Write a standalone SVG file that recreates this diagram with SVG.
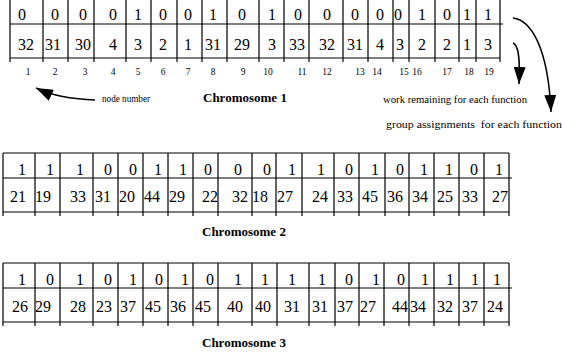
<svg xmlns="http://www.w3.org/2000/svg" width="562" height="356" viewBox="0 0 562 356">
<style>
.grid{fill:none;stroke:#000;stroke-width:1.2}
.v{font-family:"Liberation Serif","Times New Roman","DejaVu Serif",serif;font-size:16px;text-anchor:middle;fill:#000}
.n{font-family:"Liberation Serif","Times New Roman","DejaVu Serif",serif;font-size:9.5px;text-anchor:middle;fill:#000}
.lbl{font-family:"Liberation Serif","Times New Roman","DejaVu Serif",serif;font-size:10px;fill:#000}
.ttl{font-family:"Liberation Serif","Times New Roman","DejaVu Serif",serif;font-size:13px;font-weight:bold;fill:#000}
.arr{fill:none;stroke:#000;stroke-width:1.5}
</style>
<defs>
<marker id="ah" markerUnits="userSpaceOnUse" markerWidth="18" markerHeight="12" refX="17" refY="6" orient="auto">
<path d="M0,0 L17,6 L0,12 z" fill="#000"/>
</marker>
</defs>

<g id="chromosome1">
<path class="grid" d="M10,-1H500M10,24H503M10,58H500
M10,-1V62M43,-1V62M68,-1V62M94,-1V62M126,-1V62M151,-1V62M177,-1V62M202,-1V62M227,-1V62M259,-1V62M284,-1V62M309,-1V62M343,-1V62M368,-1V62M393,-1V62M409,-1V62M435,-1V62M459,-1V62M476,-1V62M500,-1V62"/>
<g class="v">
<text x="22" y="20">0</text><text x="55" y="20">0</text><text x="83" y="20">0</text><text x="113" y="20">0</text><text x="138" y="20">1</text><text x="163" y="20">0</text><text x="188" y="20">0</text><text x="213" y="20">1</text><text x="242" y="20">0</text><text x="272" y="20">1</text><text x="298" y="20">0</text><text x="327" y="20">0</text><text x="355" y="20">0</text><text x="380" y="20">0</text><text x="398" y="20">0</text><text x="422" y="20">1</text><text x="447" y="20">0</text><text x="467" y="20">1</text><text x="488" y="20">1</text>
<text x="26" y="50">32</text><text x="53" y="50">31</text><text x="83" y="50">30</text><text x="113" y="50">4</text><text x="138" y="50">3</text><text x="163" y="50">2</text><text x="188" y="50">1</text><text x="213" y="50">31</text><text x="242" y="50">29</text><text x="272" y="50">3</text><text x="297" y="50">33</text><text x="327" y="50">32</text><text x="355" y="50">31</text><text x="380" y="50">4</text><text x="400" y="50">3</text><text x="422" y="50">2</text><text x="447" y="50">2</text><text x="467" y="50">1</text><text x="488" y="50">3</text>
</g>
<g class="n">
<text x="28" y="75">1</text><text x="55" y="75">2</text><text x="85" y="75">3</text><text x="113" y="75">4</text><text x="138" y="75">5</text><text x="163" y="75">6</text><text x="188" y="75">7</text><text x="213" y="75">8</text><text x="243" y="75">9</text><text x="268" y="75">10</text><text x="302" y="75">11</text><text x="327" y="75">12</text><text x="360" y="75">13</text><text x="377" y="75">14</text><text x="404" y="75">15</text><text x="417" y="75">16</text><text x="447" y="75">17</text><text x="469" y="75">18</text><text x="489" y="75">19</text>
</g>
<text class="ttl" x="203" y="102">Chromosome 1</text>
</g>

<g id="labels">
<text class="lbl" x="102" y="102" textLength="48" lengthAdjust="spacingAndGlyphs">node number</text>
<text class="lbl" x="383" y="103" textLength="144" lengthAdjust="spacingAndGlyphs">work remaining for each function</text>
<text class="lbl" x="386" y="128" xml:space="preserve" textLength="176" lengthAdjust="spacingAndGlyphs">group assignments  for each function</text>
</g>

<g id="chromosome2">
<path class="grid" d="M3,153H509M3,178H512M3,212H509
M3,153V216M35,153V216M60,153V216M93,153V216M118,153V216M143,153V216M168,153V216M193,153V216M218,153V216M252,153V216M276,153V216M302,153V216M334,153V216M359,153V216M385,153V216M409,153V216M434,153V216M459,153V216M484,153V216M509,153V216"/>
<g class="v">
<text x="22" y="175">1</text><text x="50" y="175">1</text><text x="80" y="175">1</text><text x="108" y="175">0</text><text x="133" y="175">0</text><text x="158" y="175">1</text><text x="183" y="175">1</text><text x="208" y="175">0</text><text x="238" y="175">0</text><text x="267" y="175">0</text><text x="292" y="175">1</text><text x="321" y="175">1</text><text x="349" y="175">0</text><text x="375" y="175">1</text><text x="400" y="175">0</text><text x="424" y="175">1</text><text x="449" y="175">1</text><text x="474" y="175">0</text><text x="499" y="175">1</text>
<text x="18" y="202">21</text><text x="43" y="202">19</text><text x="78" y="202">33</text><text x="103" y="202">31</text><text x="127" y="202">20</text><text x="152" y="202">44</text><text x="177" y="202">29</text><text x="210" y="202">22</text><text x="240" y="202">32</text><text x="260" y="202">18</text><text x="285" y="202">27</text><text x="320" y="202">24</text><text x="345" y="202">33</text><text x="370" y="202">45</text><text x="395" y="202">36</text><text x="420" y="202">34</text><text x="445" y="202">25</text><text x="470" y="202">33</text><text x="500" y="202">27</text>
</g>
<text class="ttl" x="202" y="236">Chromosome 2</text>
</g>

<g id="chromosome3">
<path class="grid" d="M3,263H509M3,288H512M3,322H509
M3,263V326M35,263V326M60,263V326M93,263V326M118,263V326M143,263V326M168,263V326M193,263V326M218,263V326M252,263V326M277,263V326M309,263V326M335,263V326M359,263V326M384,263V326M409,263V326M434,263V326M459,263V326M484,263V326M509,263V326"/>
<g class="v">
<text x="22" y="285">1</text><text x="50" y="285">0</text><text x="80" y="285">1</text><text x="108" y="285">0</text><text x="133" y="285">1</text><text x="159" y="285">0</text><text x="185" y="285">1</text><text x="210" y="285">0</text><text x="238" y="285">1</text><text x="265" y="285">1</text><text x="292" y="285">1</text><text x="322" y="285">1</text><text x="349" y="285">0</text><text x="376" y="285">1</text><text x="401" y="285">0</text><text x="425" y="285">1</text><text x="450" y="285">1</text><text x="475" y="285">1</text><text x="497" y="285">1</text>
<text x="20" y="312">26</text><text x="43" y="312">29</text><text x="78" y="312">28</text><text x="104" y="312">23</text><text x="128" y="312">37</text><text x="153" y="312">45</text><text x="178" y="312">36</text><text x="203" y="312">45</text><text x="235" y="312">40</text><text x="263" y="312">40</text><text x="292" y="312">31</text><text x="320" y="312">31</text><text x="345" y="312">37</text><text x="368" y="312">27</text><text x="400" y="312">44</text><text x="418" y="312">34</text><text x="445" y="312">32</text><text x="470" y="312">37</text><text x="495" y="312">24</text>
</g>
<text class="ttl" x="202" y="347">Chromosome 3</text>
</g>

<g id="connectors">
<path class="arr" d="M95,100 C75,99 55,97 36,88" marker-end="url(#ah)"/>
<path class="arr" d="M513,18 C530,20 548,45 551,112" marker-end="url(#ah)"/>
<path class="arr" d="M513,43 C519,45 520,60 519,84" marker-end="url(#ah)"/>
</g>
</svg>
